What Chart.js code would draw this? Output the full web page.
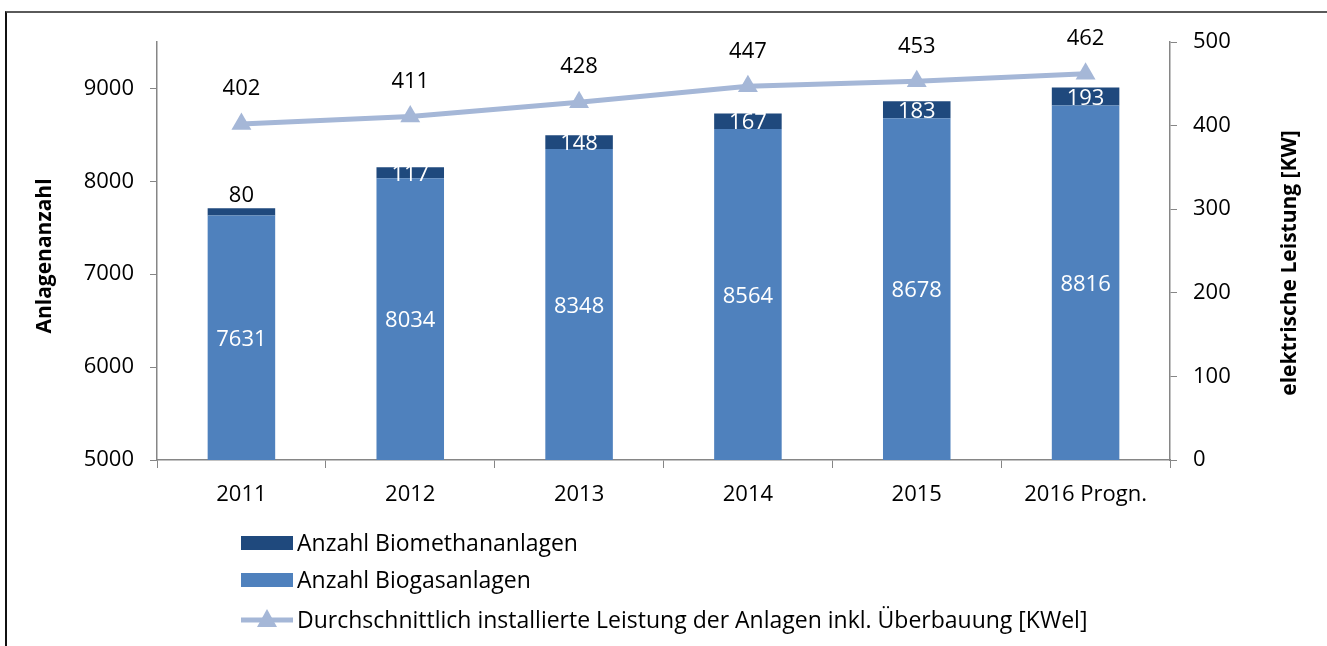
<!DOCTYPE html>
<html>
<head>
<meta charset="utf-8">
<script src="https://cdn.jsdelivr.net/npm/chart.js@4.4.1/dist/chart.umd.min.js"></script>
<style>
    html, body { margin: 0; padding: 0; background: #fff; }
    #wrap { position: relative; width: 1327px; height: 646px; overflow: hidden; }
    #frame { position: absolute; left: 5px; top: 11px; right: -5px; bottom: -5px;
             border-top: 2px solid #5a5a5a; border-left: 2px solid #111; }
    canvas { position: absolute; left: 0; top: 0; }
</style>
</head>
<body>
<div id="wrap">
    <div id="frame"></div>
    <canvas id="chart" width="1327" height="646"></canvas>
</div>
<script>
const years = ['2011', '2012', '2013', '2014', '2015', '2016 Progn.'];
const biogas = [7631, 8034, 8348, 8564, 8678, 8816];
const biomethan = [80, 117, 148, 167, 183, 193];
const leistung = [402, 411, 428, 447, 453, 462];
const leftTicks = [5000, 6000, 7000, 8000, 9000];
const leftTitle = 'Anlagenanzahl';
const rightTitle = 'elektrische Leistung [KW]';

const FONT = '"Open Sans"';
const axisGray = '#868686';

// value labels, drawn on top of the datasets
const valueLabels = {
    id: 'valueLabels',
    afterDatasetsDraw(chart) {
        const ctx = chart.ctx;
        const bottom = chart.chartArea.bottom;
        ctx.save();
        ctx.font = '22px ' + FONT;
        ctx.textAlign = 'center';
        ctx.textBaseline = 'middle';
        chart.data.datasets.forEach((ds, i) => {
            const meta = chart.getDatasetMeta(i);
            meta.data.forEach((el, j) => {
                const v = ds.data[j];
                if (ds.type === 'line') {
                    ctx.fillStyle = '#000';
                    ctx.fillText(v, el.x, el.y - 35);
                } else if (ds.label === 'Anzahl Biomethananlagen' && v < 100) {
                    ctx.fillStyle = '#000';
                    ctx.fillText(v, el.x, el.y - 12);
                } else {
                    ctx.fillStyle = '#fff';
                    ctx.fillText(v, el.x, (el.y + Math.min(el.base, bottom)) / 2 + 2);
                }
            });
        });
        ctx.restore();
    }
};

// axis titles (both read bottom to top) and vertical legend under the chart
const extras = {
    id: 'extras',
    afterDraw(chart) {
        const ctx = chart.ctx;
        ctx.save();
        ctx.fillStyle = '#000';
        ctx.font = 'bold 21px ' + FONT;
        ctx.textAlign = 'center';
        ctx.textBaseline = 'middle';
        [[45, 256, leftTitle], [1290, 263, rightTitle]].forEach(([x, y, t]) => {
            ctx.save();
            ctx.translate(x, y);
            ctx.rotate(-Math.PI / 2);
            ctx.fillText(t, 0, 0);
            ctx.restore();
        });

        const x0 = 241, w = 52, rows = [543, 580, 620];
        const order = [1, 0, 2];
        ctx.font = '23px ' + FONT;
        ctx.textAlign = 'left';
        order.forEach((idx, r) => {
            const ds = chart.data.datasets[idx];
            const y = rows[r];
            if (ds.type === 'line') {
                ctx.strokeStyle = ds.borderColor;
                ctx.lineWidth = 5;
                ctx.beginPath();
                ctx.moveTo(x0, y);
                ctx.lineTo(x0 + w, y);
                ctx.stroke();
                ctx.fillStyle = ds.borderColor;
                ctx.beginPath();
                ctx.moveTo(x0 + w / 2, y - 11);
                ctx.lineTo(x0 + w / 2 + 10, y + 7);
                ctx.lineTo(x0 + w / 2 - 10, y + 7);
                ctx.closePath();
                ctx.fill();
            } else {
                ctx.fillStyle = ds.backgroundColor;
                ctx.fillRect(x0, y - 7, w, 14);
            }
            ctx.fillStyle = '#000';
            ctx.fillText(ds.label, x0 + w + 4, y + 1);
        });
        ctx.restore();
    }
};

new Chart(document.getElementById('chart'), {
    data: {
        labels: years,
        datasets: [
            {
                type: 'bar',
                label: 'Anzahl Biogasanlagen',
                data: biogas,
                backgroundColor: '#4f81bd',
                yAxisID: 'y',
                barPercentage: 0.4,
                categoryPercentage: 1,
                order: 1
            },
            {
                type: 'bar',
                label: 'Anzahl Biomethananlagen',
                data: biomethan,
                backgroundColor: '#1f497d',
                yAxisID: 'y',
                barPercentage: 0.4,
                categoryPercentage: 1,
                order: 1
            },
            {
                type: 'line',
                label: 'Durchschnittlich installierte Leistung der Anlagen inkl. Überbauung [KWel]',
                data: leistung,
                borderColor: '#a5b7d7',
                backgroundColor: '#a5b7d7',
                borderWidth: 5,
                pointStyle: 'triangle',
                pointRadius: 11.5,
                pointBorderWidth: 0,
                yAxisID: 'y1',
                order: 0
            }
        ]
    },
    options: {
        responsive: false,
        animation: false,
        layout: { padding: { top: 42, left: 0, right: 0, bottom: 0 } },
        plugins: {
            legend: { display: false },
            tooltip: { enabled: false }
        },
        scales: {
            x: {
                stacked: true,
                grid: { offset: true, drawOnChartArea: false, color: axisGray, tickLength: 8 },
                border: { color: axisGray, width: 1.5 },
                ticks: { color: '#000', font: { family: FONT, size: 22 }, padding: 14 },
                afterFit(scale) { scale.height = 186; }
            },
            y: {
                stacked: true,
                position: 'left',
                min: 5000,
                max: 9500,
                afterBuildTicks(scale) {
                    scale.ticks = leftTicks.map(v => ({ value: v }));
                },
                grid: { drawOnChartArea: false, color: axisGray, tickLength: 7 },
                border: { color: axisGray, width: 1.5 },
                ticks: {
                    color: '#000', font: { family: FONT, size: 22 }, padding: 16,
                    callback: v => String(v)
                },
                afterFit(scale) { scale.width = 157; }
            },
            y1: {
                position: 'right',
                min: 0,
                max: 500,
                ticks: { stepSize: 100, color: '#000', font: { family: FONT, size: 22 }, padding: 16 },
                grid: { drawOnChartArea: false, color: axisGray, tickLength: 7 },
                border: { color: axisGray, width: 1.5 },
                afterFit(scale) { scale.width = 157; }
            }
        }
    },
    plugins: [valueLabels, extras]
});
</script>
</body>
</html>
